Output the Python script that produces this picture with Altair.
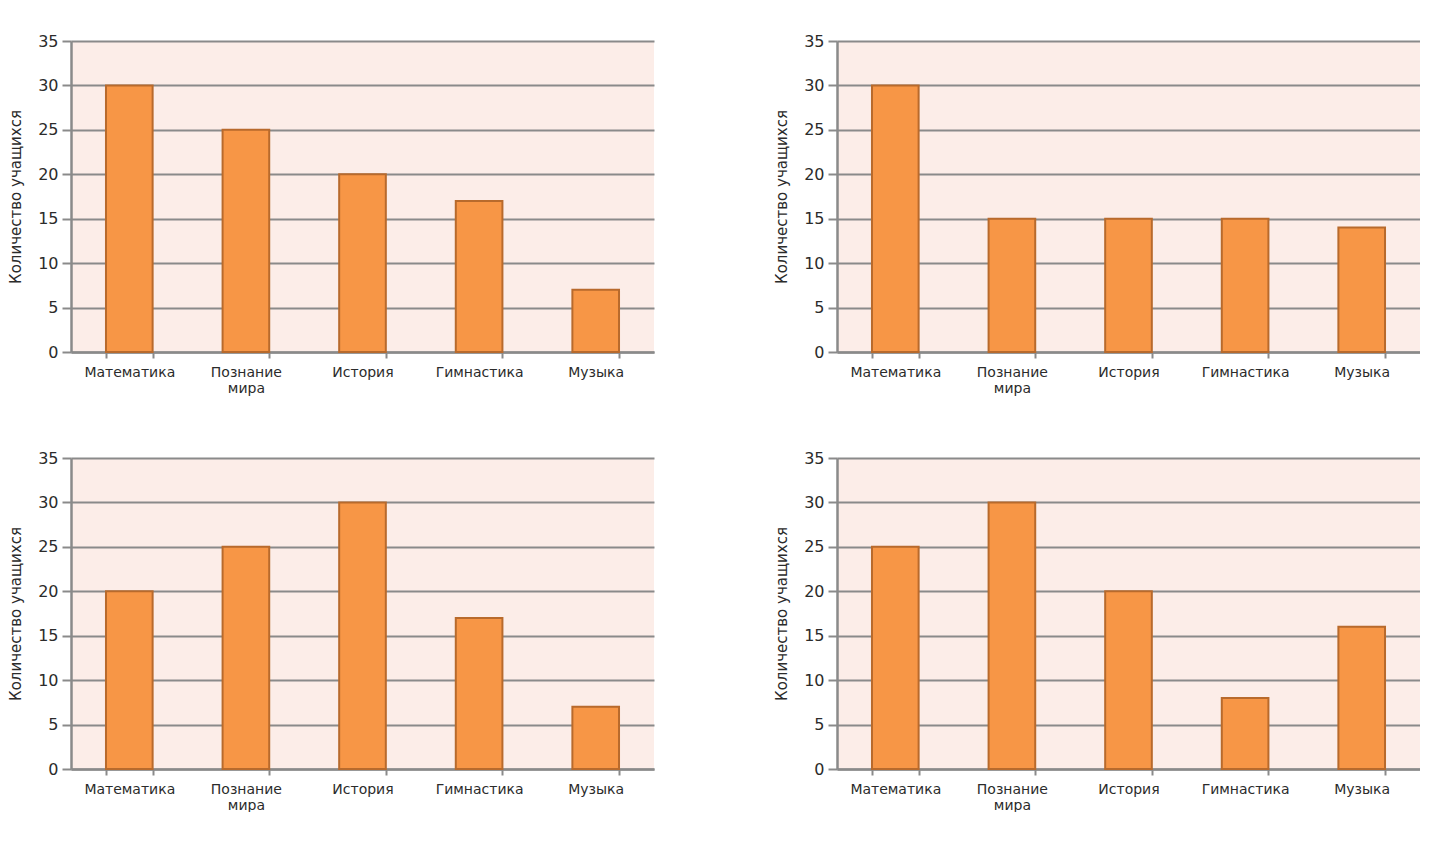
import altair as alt
import pandas as pd

categories = ["Математика", "Познание мира", "История", "Гимнастика", "Музыка"]
values_1 = [30, 25, 20, 17, 7]
values_2 = [30, 15, 15, 15, 14]
values_3 = [20, 25, 30, 17, 7]
values_4 = [25, 30, 20, 8, 16]
y_title = "Количество учащихся"
y_ticks = [0, 5, 10, 15, 20, 25, 30, 35]

FONT = "DejaVu Sans"
GRID = "#8a8a8a"
TEXT = "#2b2b2b"


def panel(vals):
    df = pd.DataFrame({"cat": categories, "val": vals})
    return alt.Chart(df).mark_bar(
        color="#F79646", stroke="#B86A2C", strokeWidth=2
    ).encode(
        x=alt.X("cat:N", sort=categories, title=None,
                scale=alt.Scale(paddingInner=0.6, paddingOuter=0.3),
                axis=alt.Axis(labelAngle=0, tickBand="extent", grid=False,
                              labelFontSize=14, labelFont=FONT, labelColor=TEXT,
                              labelPadding=7, tickSize=6, tickWidth=2, tickColor=GRID,
                              domainColor=GRID, domainWidth=2.5, labelLineHeight=16,
                              labelExpr="datum.label == 'Познание мира' ? ['Познание', 'мира'] : datum.label")),
        y=alt.Y("val:Q", title=y_title,
                scale=alt.Scale(domain=[0, 35], nice=False),
                axis=alt.Axis(values=y_ticks, grid=True, gridColor=GRID, gridWidth=2,
                              domainColor=GRID, domainWidth=2.5, tickColor=GRID, tickWidth=2,
                              tickSize=9, labelFontSize=16, labelFont=FONT, labelColor=TEXT,
                              labelPadding=4, titleFont=FONT, titleFontSize=15,
                              titleFontWeight="normal", titleColor=TEXT, titlePadding=14)),
    ).properties(width=583, height=311)


row1 = alt.hconcat(panel(values_1), panel(values_2), spacing=120)
row2 = alt.hconcat(panel(values_3), panel(values_4), spacing=120)
chart = alt.vconcat(row1, row2, spacing=55).properties(
    padding={"left": 0, "top": 25, "right": 0, "bottom": 0}
).configure(
    background="white",
    view=alt.ViewConfig(fill="#FCEDE8", stroke=None),
)

chart.save("out.html", embed_options={"renderer": "svg", "actions": False})
